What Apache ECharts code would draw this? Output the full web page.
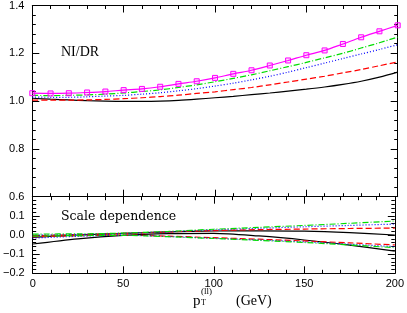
<!DOCTYPE html>
<html><head><meta charset="utf-8">
<script src="https://cdn.jsdelivr.net/npm/echarts@6/dist/echarts.min.js"></script>
<style>html,body{margin:0;padding:0;background:#fff}#c{width:407px;height:313px}</style>
</head><body><div id="c"></div>
<script>
// ---- data ----
const xTop = [0,10,20,30,40,50,60,70,80,90,100,110,120,130,140,150,160,170,180,190,200];
const magentaNIDR = [1.033,1.032,1.033,1.036,1.040,1.046,1.051,1.060,1.072,1.083,1.097,1.114,1.129,1.149,1.170,1.192,1.212,1.239,1.267,1.292,1.317];
const greenNIDR   = [1.024,1.023,1.024,1.026,1.029,1.034,1.040,1.047,1.057,1.068,1.081,1.095,1.110,1.127,1.144,1.162,1.181,1.200,1.222,1.244,1.268];
const blueNIDR    = [1.017,1.016,1.016,1.018,1.021,1.024,1.029,1.035,1.043,1.052,1.063,1.075,1.089,1.104,1.121,1.140,1.159,1.178,1.197,1.216,1.236];
const redNIDR     = [1.004,1.004,1.004,1.005,1.007,1.010,1.014,1.019,1.025,1.032,1.039,1.048,1.057,1.068,1.080,1.092,1.104,1.118,1.132,1.148,1.164];
const blackNIDR   = [1.012,1.008,1.005,1.002,1.000,0.999,0.999,1.000,1.003,1.008,1.014,1.020,1.027,1.034,1.042,1.050,1.059,1.070,1.083,1.100,1.121];

const xLow = [0,25,50,75,100,125,150,175,200];
const greenUp  = [0.005,0.006,0.010,0.019,0.030,0.040,0.050,0.061,0.073];
const blueUp   = [0.000,0.003,0.008,0.017,0.027,0.035,0.043,0.050,0.057];
const redUp    = [-0.004,0.002,0.008,0.016,0.023,0.028,0.031,0.034,0.036];
const blackUp  = [-0.012,0.000,0.009,0.016,0.021,0.022,0.020,0.012,0.000];
const redLow   = [-0.010,-0.004,0.000,-0.006,-0.014,-0.022,-0.031,-0.041,-0.052];
const blueLow  = [-0.016,-0.007,-0.001,-0.008,-0.017,-0.026,-0.036,-0.048,-0.061];
const greenLow = [-0.006,-0.003,-0.002,-0.009,-0.018,-0.028,-0.039,-0.052,-0.066];
const blackLow = [-0.047,-0.020,-0.002,0.007,0.009,-0.005,-0.026,-0.053,-0.084];

const xTicks = [0,50,100,150,200];
const yTopTicks = [0.6,0.8,1.0,1.2,1.4];
const yLowTicks = [-0.2,-0.1,0.0,0.1];

// ---- styles ----
const C = {mag:'#ff00ff', green:'#00dd00', blue:'#0000ff', red:'#ff0000', black:'#000000'};
const LS = {
  solid:'solid',
  dashdot:[6,2,1,2],
  dot:[1,2],
  dash:[6,3]
};
function pairs(xs, ys){ return xs.map((x,i)=>[x,ys[i]]); }

function xAx(gi, pos, showLabel){
  return {
    type:'value', gridIndex:gi, position:pos, min:0, max:200, interval:50,
    axisLine:{show:true,onZero:false,lineStyle:{color:'#000',width:1}},
    axisTick:{show:true,inside:true,length:7,lineStyle:{color:'#000',width:1}},
    minorTick:{show:true,splitNumber:5,length:3.5,lineStyle:{color:'#000',width:1}},
    splitLine:{show:false},
    axisLabel:{show:showLabel,color:'#000',fontFamily:'Liberation Sans',fontSize:11,margin:5,
      formatter:v=> xTicks.includes(v)?String(v):''}
  };
}
function yAx(gi, pos, min, max, interval, showLabel, ticks){
  return {
    type:'value', gridIndex:gi, position:pos, min:min, max:max, interval:interval,
    axisLine:{show:true,onZero:false,lineStyle:{color:'#000',width:1}},
    axisTick:{show:true,inside:true,length:7,lineStyle:{color:'#000',width:1}},
    minorTick:{show:true,splitNumber:5,length:3.5,lineStyle:{color:'#000',width:1}},
    splitLine:{show:false},
    axisLabel:{show:showLabel,color:'#000',fontFamily:'Liberation Sans',fontSize:11,margin:8,
      formatter:v=>{
        const r=Math.round(v*10)/10;
        if(!ticks.some(t=>Math.abs(t-r)<1e-6)) return '';
        return r.toFixed(1).replace('-','\u2212');
      }}
  };
}
function line(xi, yi, data, color, type, extra){
  return Object.assign({
    type:'line', xAxisIndex:xi, yAxisIndex:yi, data:data, showSymbol:false, symbol:'none',
    smooth:0.3, lineStyle:{color:color,width:1.2,type:type}, silent:true, animation:false, z:2
  }, extra||{});
}

const option = {
  animation:false,
  grid:[
    {left:32.3, right:9.3, top:5.3, height:191.4},
    {left:32.3, right:9.3, top:196.7, height:76.6}
  ],
  xAxis:[ xAx(0,'bottom',false), xAx(0,'top',false), xAx(1,'bottom',true), xAx(1,'top',false) ],
  yAxis:[
    yAx(0,'left',0.6,1.4,0.2,true,yTopTicks), yAx(0,'right',0.6,1.4,0.2,false,yTopTicks),
    yAx(1,'left',-0.2,0.2,0.1,true,yLowTicks), yAx(1,'right',-0.2,0.2,0.1,false,yLowTicks)
  ],
  series:[
    line(0,0,pairs(xTop,blackNIDR),C.black,LS.solid),
    line(0,0,pairs(xTop,redNIDR),C.red,LS.dash),
    line(0,0,pairs(xTop,blueNIDR),C.blue,LS.dot),
    line(0,0,pairs(xTop,greenNIDR),C.green,LS.dashdot),
    line(0,0,pairs(xTop,magentaNIDR),C.mag,LS.solid,{showSymbol:true,symbol:'rect',symbolSize:5,
      itemStyle:{color:'rgba(255,0,255,0.15)',borderColor:C.mag,borderWidth:1}}),
    line(2,2,pairs(xLow,blackUp),C.black,LS.solid),
    line(2,2,pairs(xLow,blackLow),C.black,LS.solid),
    line(2,2,pairs(xLow,redUp),C.red,LS.dash),
    line(2,2,pairs(xLow,redLow),C.red,LS.dash),
    line(2,2,pairs(xLow,blueUp),C.blue,LS.dot),
    line(2,2,pairs(xLow,blueLow),C.blue,LS.dot),
    line(2,2,pairs(xLow,greenUp),C.green,LS.dashdot),
    line(2,2,pairs(xLow,greenLow),C.green,LS.dashdot)
  ],
  graphic:[
    {type:'text',left:61,top:45,style:{text:'NI/DR',font:'14px "Liberation Serif"',fill:'#000'}},
    {type:'text',left:61,top:210,style:{text:'Scale dependence',font:'12.5px "DejaVu Serif"',fill:'#000'}},
    {type:'text',left:193,top:294,style:{text:'p',font:'15px "Liberation Serif"',fill:'#000'}},
    {type:'text',left:201,top:299,style:{text:'T',font:'8px "Liberation Serif"',fill:'#000'}},
    {type:'text',left:201,top:287,style:{text:'(ll)',font:'9px "Liberation Serif"',fill:'#000'}},
    {type:'text',left:236,top:294,style:{text:'(GeV)',font:'14px "Liberation Serif"',fill:'#000'}}
  ]
};
const chart = echarts.init(document.getElementById('c'),null,{renderer:'canvas'});
chart.setOption(option);
</script></body></html>
